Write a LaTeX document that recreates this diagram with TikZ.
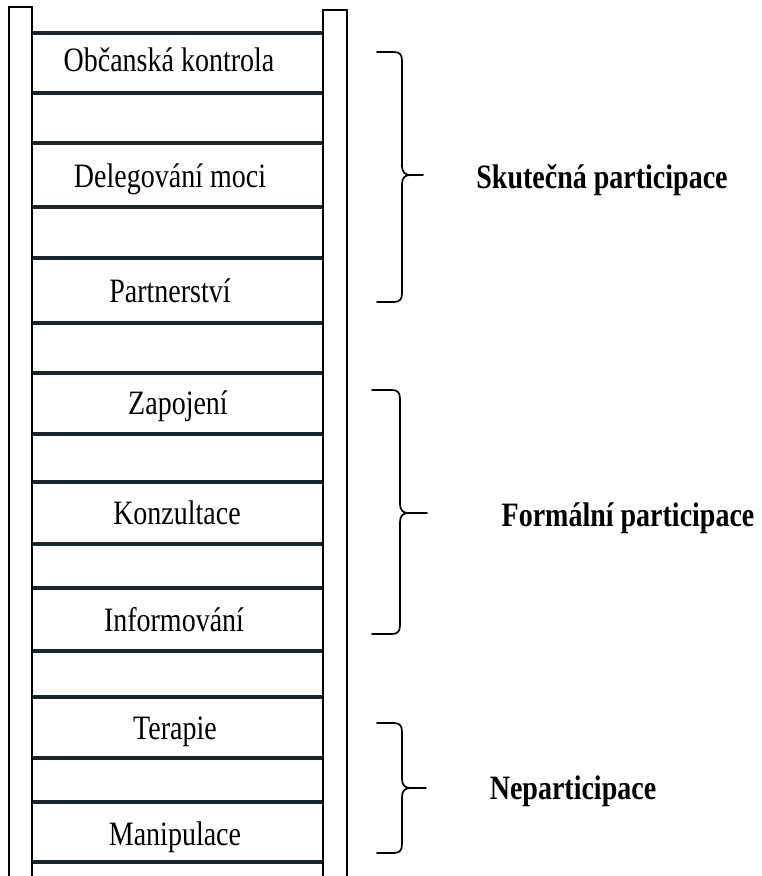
\documentclass[tikz,border=0pt]{standalone}
\usepackage{fontspec}
\setmainfont{Liberation Serif}
\definecolor{rungblue}{RGB}{24,38,48}

\begin{document}
\begin{tikzpicture}[x=1pt,y=-1pt]
\tikzstyle{rail}=[line width=2.4pt,black]
\tikzstyle{rung}=[line width=3.6pt,color=rungblue]
\tikzstyle{bracket}=[line width=1.7pt,black,line cap=round]
\tikzstyle{level}=[font=\fontsize{28}{30}\selectfont,anchor=base,yscale=1.22,transform shape,inner sep=0pt]
\tikzstyle{group}=[font=\fontsize{28}{30}\selectfont\bfseries,anchor=base,yscale=1.22,transform shape,inner sep=0pt]
\useasboundingbox (0,0) rectangle (761,876);
\fill[white] (0,0) rectangle (761,876);
% rails
\draw[rail] (9,876) -- (9,7) -- (32,7) -- (32,876);
\draw[rail] (323,876) -- (323,10) -- (347,10) -- (347,876);
% rungs
\draw[rung] (33,33) -- (322,33);
\draw[rung] (33,93) -- (322,93);
\draw[rung] (33,143) -- (322,143);
\draw[rung] (33,207) -- (322,207);
\draw[rung] (33,258) -- (322,258);
\draw[rung] (33,323) -- (322,323);
\draw[rung] (33,373) -- (322,373);
\draw[rung] (33,434) -- (322,434);
\draw[rung] (33,482) -- (322,482);
\draw[rung] (33,544) -- (322,544);
\draw[rung] (33,588) -- (322,588);
\draw[rung] (33,651) -- (322,651);
\draw[rung] (33,697) -- (322,697);
\draw[rung] (33,758) -- (322,758);
\draw[rung] (33,802) -- (322,802);
\draw[rung] (33,862) -- (322,862);
% levels
\node[level] (obcanska) at (169,71) {Občanská kontrola};
\node[level] (delegovani) at (170,187) {Delegování moci};
\node[level] (partnerstvi) at (170,302) {Partnerství};
\node[level] (zapojeni) at (178,414) {Zapojení};
\node[level] (konzultace) at (177,524) {Konzultace};
\node[level] (informovani) at (174,631) {Informování};
\node[level] (terapie) at (175,739) {Terapie};
\node[level] (manipulace) at (175,845) {Manipulace};
% braces
\draw[bracket] (377,52) -- (394,52) .. controls (400,52) and (402,55) .. (402,61) -- (402,166)
  .. controls (402,172) and (405,175) .. (410,175) -- (423,175);
\draw[bracket] (410,175) .. controls (405,175) and (402,178) .. (402,184) -- (402,293)
  .. controls (402,299) and (400,302) .. (394,302) -- (377,302);
\draw[bracket] (372,390) -- (392,390) .. controls (398,390) and (400,393) .. (400,399) -- (400,504)
  .. controls (400,510) and (403,513) .. (408,513) -- (427,513);
\draw[bracket] (408,513) .. controls (403,513) and (400,516) .. (400,522) -- (400,625)
  .. controls (400,631) and (398,634) .. (392,634) -- (372,634);
\draw[bracket] (377,723) -- (394,723) .. controls (400,723) and (402,726) .. (402,732) -- (402,779)
  .. controls (402,785) and (405,788) .. (410,788) -- (426,788);
\draw[bracket] (410,788) .. controls (405,788) and (402,791) .. (402,797) -- (402,844)
  .. controls (402,850) and (400,853) .. (394,853) -- (377,853);
% groups
\node[group] (skutecna) at (602,188) {Skutečná participace};
\node[group] (formalni) at (628,526) {Formální participace};
\node[group] (nepart) at (573,799) {Neparticipace};
\end{tikzpicture}
\end{document}
